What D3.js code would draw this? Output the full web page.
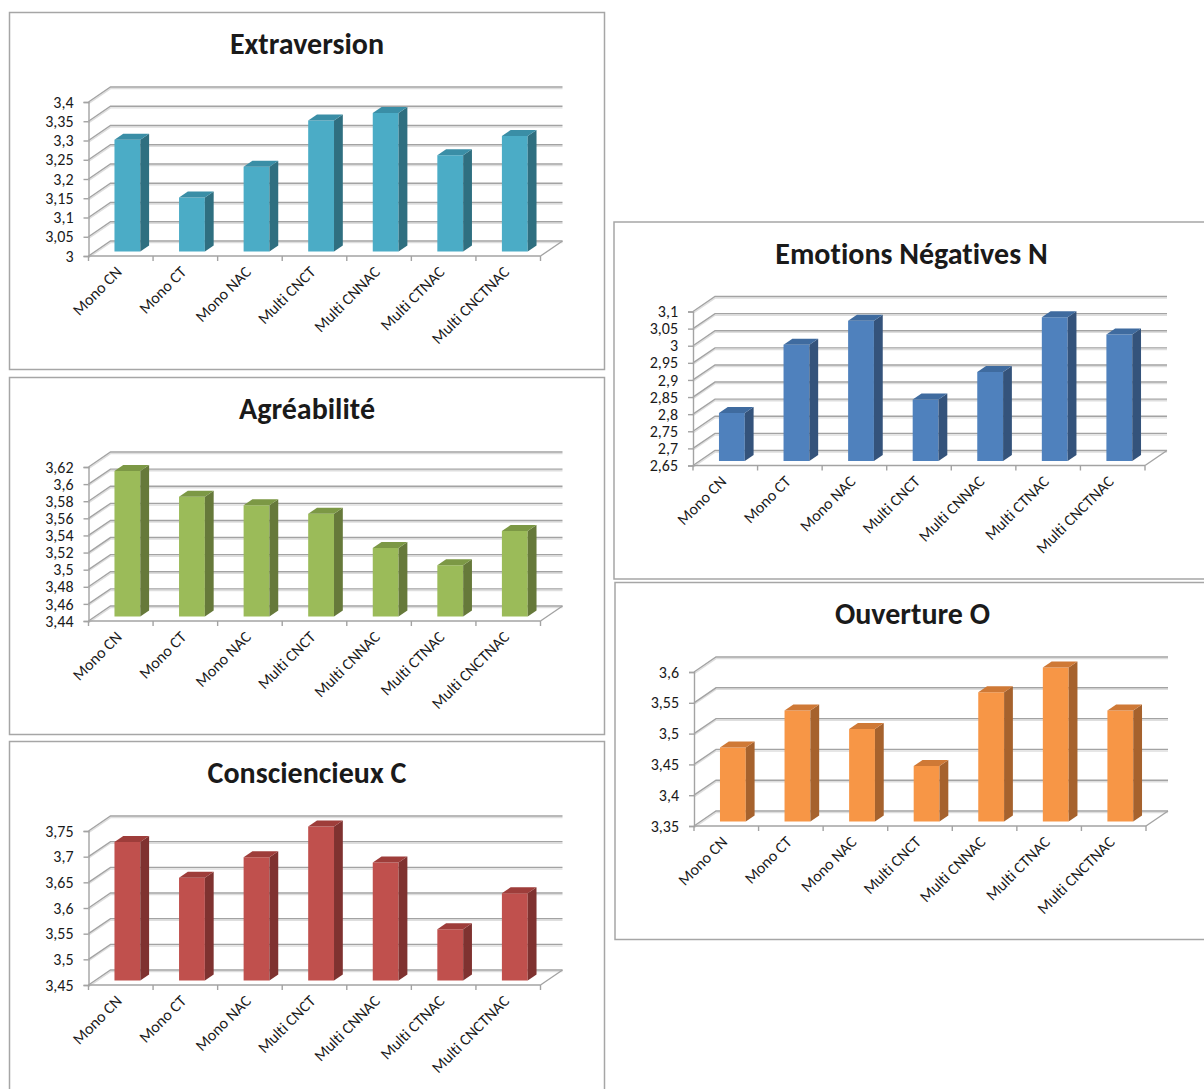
<!DOCTYPE html>
<html>
<head>
<meta charset="utf-8">
<script src="https://cdn.jsdelivr.net/npm/d3@7"></script>
<style>
  html, body { margin: 0; padding: 0; background: #ffffff; }
  svg { display: block; }
  text { font-family: Carlito, Lato, "Open Sans", sans-serif; fill: #1a1a1a; font-variant-ligatures: none; }
</style>
</head>
<body>
<svg id="chart" width="1204" height="1089"></svg>
<script>
// Groups compared in every panel
const categories = ["Mono CN", "Mono CT", "Mono NAC", "Multi CNCT", "Multi CNNAC", "Multi CTNAC", "Multi CNCTNAC"];

// Mean scores per group
const extraversion  = [3.29, 3.14, 3.22, 3.34, 3.36, 3.25, 3.30];
const agreabilite   = [3.61, 3.58, 3.57, 3.56, 3.52, 3.50, 3.54];
const conscience    = [3.72, 3.65, 3.69, 3.75, 3.68, 3.55, 3.62];
const emotionsNeg   = [2.79, 2.99, 3.06, 2.83, 2.91, 3.07, 3.02];
const ouverture     = [3.47, 3.53, 3.50, 3.44, 3.56, 3.60, 3.53];

// Value-axis ticks for each panel
const extraversionTicks = [3, 3.05, 3.1, 3.15, 3.2, 3.25, 3.3, 3.35, 3.4];
const agreabiliteTicks  = [3.44, 3.46, 3.48, 3.5, 3.52, 3.54, 3.56, 3.58, 3.6, 3.62];
const conscienceTicks   = [3.45, 3.5, 3.55, 3.6, 3.65, 3.7, 3.75];
const emotionsNegTicks  = [2.65, 2.7, 2.75, 2.8, 2.85, 2.9, 2.95, 3, 3.05, 3.1];
const ouvertureTicks    = [3.35, 3.4, 3.45, 3.5, 3.55, 3.6];

// Panel titles
const titles = ["Extraversion", "Agréabilité", "Consciencieux C", "Emotions Négatives N", "Ouverture O"];

// French number format (decimal comma)
const fr = d3.formatLocale({ decimal: ",", thousands: " ", grouping: [3], currency: ["", " €"] });
const fmt = v => fr.format("~g")(+v.toFixed(2));

const panels = [
  { title: titles[0], values: extraversion, ticks: extraversionTicks, x: 9.5, y: 12.5,  colors: ["#4bacc6", "#2f6f80", "#3a8ea6"] },
  { title: titles[1], values: agreabilite,  ticks: agreabiliteTicks,  x: 9.5, y: 377.5, colors: ["#9bbb59", "#66793a", "#7c9845"] },
  { title: titles[2], values: conscience,   ticks: conscienceTicks,   x: 9.5, y: 741.5, colors: ["#c0504d", "#7f3230", "#9e3d3a"] },
  { title: titles[3], values: emotionsNeg,  ticks: emotionsNegTicks,  x: 614, y: 222,   colors: ["#4f81bd", "#34537b", "#3f6b9f"] },
  { title: titles[4], values: ouverture,    ticks: ouvertureTicks,    x: 615, y: 582.5, colors: ["#f79646", "#a6622d", "#cf7936"] }
];

const svg = d3.select("#chart");

const PW = 595, PH = 357;       // panel box
const AX = 79;                  // front value axis, from panel left
const PLOT_W = 452;             // floor width
const TOP = 89.5, BOTTOM = 243.5;
const DX = 22, DY = 15;         // oblique depth of the 3-D box
const Z0 = 0.3, Z1 = 0.7;       // depth occupied by the columns

const gridColor = "#a3a3a3";
const gridShadow = "#dedede";

function project(xv, yv, z) { return [xv + z * DX, yv - z * DY]; }

function drawPanel(p) {
  const g = svg.append("g").attr("transform", `translate(${p.x},${p.y})`);

  g.append("rect")
    .attr("width", PW).attr("height", PH)
    .attr("fill", "#ffffff")
    .attr("stroke", "#a6a6a6").attr("stroke-width", 1.5);

  g.append("text")
    .attr("x", PW / 2).attr("y", 41.5)
    .attr("text-anchor", "middle")
    .style("font-size", "30px").style("font-weight", "bold")
    .text(p.title);

  const plot = g.append("g").attr("transform", `translate(${AX},0)`);
  const lo = p.ticks[0], hi = p.ticks[p.ticks.length - 1];
  const y = d3.scaleLinear().domain([lo, hi]).range([BOTTOM, TOP]);
  const x = d3.scaleBand().domain(categories).range([0, PLOT_W]);
  const bw = x.bandwidth();

  // back wall and left side wall gridlines
  const grid = plot.append("g");
  const gridPath = t => {
    const [ax, ay] = [0, y(t)];
    const [bx, by] = project(0, y(t), 1);
    const [cx, cy] = project(PLOT_W, y(t), 1);
    return `M${ax},${ay}L${bx},${by}L${cx},${cy}`;
  };
  grid.selectAll("path.shadow").data(p.ticks).join("path")
    .attr("class", "shadow")
    .attr("d", gridPath).attr("transform", "translate(0,1.6)")
    .attr("fill", "none").attr("stroke", gridShadow).attr("stroke-width", 1.4);
  grid.selectAll("path.line").data(p.ticks).join("path")
    .attr("class", "line")
    .attr("d", gridPath)
    .attr("fill", "none").attr("stroke", gridColor).attr("stroke-width", 1.4);

  // right edge of the floor
  const [fx, fy] = project(PLOT_W, y(lo), 1);
  plot.append("line")
    .attr("x1", PLOT_W).attr("y1", y(lo)).attr("x2", fx).attr("y2", fy)
    .attr("stroke", gridColor).attr("stroke-width", 1.4);

  // columns
  const bars = plot.selectAll("g.bar").data(p.values).join("g").attr("class", "bar");
  bars.each(function (v, i) {
    const b = d3.select(this);
    const x0 = x(categories[i]) + bw * 0.3, x1 = x0 + bw * 0.4;
    const yt = y(v), yb = y(lo);
    const poly = pts => pts.map(q => q.join(",")).join(" ");
    // front face
    b.append("polygon")
      .attr("points", poly([project(x0, yt, Z0), project(x1, yt, Z0), project(x1, yb, Z0), project(x0, yb, Z0)]))
      .attr("fill", p.colors[0]);
    // right side face
    b.append("polygon")
      .attr("points", poly([project(x1, yt, Z0), project(x1, yt, Z1), project(x1, yb, Z1), project(x1, yb, Z0)]))
      .attr("fill", p.colors[1]);
    // top face
    b.append("polygon")
      .attr("points", poly([project(x0, yt, Z0), project(x1, yt, Z0), project(x1, yt, Z1), project(x0, yt, Z1)]))
      .attr("fill", p.colors[2]);
  });

  // front value axis
  const yAxis = d3.axisLeft(y).tickValues(p.ticks).tickFormat(fmt).tickSize(5).tickPadding(10);
  const ya = plot.append("g").call(yAxis);
  ya.select(".domain").attr("stroke", gridColor).attr("stroke-width", 1.4);
  ya.selectAll(".tick line").attr("stroke", gridColor).attr("stroke-width", 1.4);
  ya.selectAll(".tick text")
    .style("font-family", "Carlito, Lato, sans-serif")
    .style("font-size", "16px").attr("fill", "#1a1a1a");

  // front floor edge with ticks at the category boundaries
  const floor = plot.append("g").attr("transform", `translate(0,${y(lo)})`);
  floor.append("line").attr("x1", 0).attr("x2", PLOT_W)
    .attr("stroke", gridColor).attr("stroke-width", 1.4);
  const bounds = categories.map(c => x(c)).concat([PLOT_W]);
  floor.selectAll("line.tk").data(bounds).join("line")
    .attr("class", "tk")
    .attr("x1", d => d).attr("x2", d => d).attr("y1", 0).attr("y2", 5)
    .attr("stroke", gridColor).attr("stroke-width", 1.4);

  floor.selectAll("text").data(categories).join("text")
    .attr("transform", c => `translate(${x(c) + bw / 2 + 2},${17}) rotate(-45)`)
    .attr("text-anchor", "end")
    .style("font-size", "16px")
    .text(c => c);
}

panels.forEach(drawPanel);
</script>
</body>
</html>
